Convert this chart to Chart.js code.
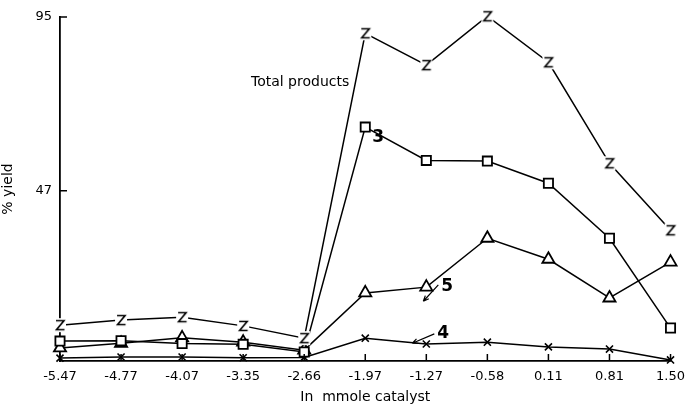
<!DOCTYPE html>
<html>
<head>
<meta charset="utf-8">
<script src="https://cdn.jsdelivr.net/npm/chart.js@4.4.1/dist/chart.umd.min.js"></script>
<style>
  html, body { margin: 0; padding: 0; background: #fff; }
  #wrap { width: 693px; height: 410px; }
</style>
</head>
<body>
<div id="wrap"><canvas id="chart" width="693" height="410"></canvas></div>
<script>
// ln(mmole catalyst)
const lnCatalyst = ["-5.47", "-4.77", "-4.07", "-3.35", "-2.66", "-1.97", "-1.27", "-0.58", "0.11", "0.81", "1.50"];

// % yield
const totalProducts = [9.9, 11.3, 12.1, 9.7, 6.3, 90.5, 81.7, 95.2, 82.5, 54.6, 36.1];
const compound3 = [5.5, 5.6, 4.8, 4.6, 2.5, 64.6, 55.4, 55.2, 49.1, 33.9, 9.1];
const compound5 = [3.6, 4.9, 6.4, 5.2, 3.0, 18.8, 20.4, 33.9, 28.1, 17.4, 27.3];
const compound4 = [0.8, 1.1, 1.1, 0.9, 1.0, 6.3, 4.7, 5.2, 3.9, 3.3, 0.3];

const yTicks = [0, 47, 95];

const FONT = "'DejaVu Sans', sans-serif";

// "Z" marker for total products
function zMarker() {
    const c = document.createElement("canvas");
    c.width = 14;
    c.height = 16;
    const g = c.getContext("2d");
    g.fillStyle = "#fff";
    g.fillRect(1, 1, 12, 14);
    g.strokeStyle = "#000";
    g.lineWidth = 1.6;
    g.beginPath();
    g.moveTo(3, 3.5);
    g.lineTo(11, 3.5);
    g.lineTo(3.5, 12.5);
    g.lineTo(11.5, 12.5);
    g.stroke();
    return c;
}

const inwardTicks = {
    id: "inwardTicks",
    afterDraw(chart) {
        const { ctx, scales: { x, y }, chartArea } = chart;
        ctx.save();
        ctx.strokeStyle = "#000";
        ctx.lineWidth = 1.5;
        ctx.beginPath();
        lnCatalyst.forEach((_, i) => {
            const px = x.getPixelForValue(i);
            ctx.moveTo(px, chartArea.bottom);
            ctx.lineTo(px, chartArea.bottom - 7);
        });
        yTicks.slice(1).forEach(v => {
            const py = y.getPixelForValue(v);
            ctx.moveTo(chartArea.left, py);
            ctx.lineTo(chartArea.left + 7, py);
        });
        ctx.stroke();
        ctx.restore();
    }
};

const notes = {
    id: "notes",
    afterDraw(chart) {
        const { ctx, scales: { x, y } } = chart;
        ctx.save();
        ctx.fillStyle = "#000";
        ctx.strokeStyle = "#000";
        ctx.lineWidth = 1.2;
        ctx.textBaseline = "middle";

        ctx.font = "14px " + FONT;
        ctx.textAlign = "right";
        ctx.fillText("Total products", x.getPixelForValue(5) - 16, y.getPixelForValue(77));

        ctx.font = "bold 17px " + FONT;
        ctx.textAlign = "left";
        ctx.fillText("3", x.getPixelForValue(5) + 7, y.getPixelForValue(61.8));
        ctx.fillText("5", x.getPixelForValue(6) + 15, y.getPixelForValue(20.5));
        ctx.fillText("4", x.getPixelForValue(6) + 11, y.getPixelForValue(7.7));

        // little arrows from the numbers to their curves
        const arrow = (x0, y0, x1, y1) => {
            const a = Math.atan2(y1 - y0, x1 - x0);
            ctx.beginPath();
            ctx.moveTo(x0, y0);
            ctx.lineTo(x1, y1);
            ctx.moveTo(x1, y1);
            ctx.lineTo(x1 - 6 * Math.cos(a - 0.4), y1 - 6 * Math.sin(a - 0.4));
            ctx.moveTo(x1, y1);
            ctx.lineTo(x1 - 6 * Math.cos(a + 0.4), y1 - 6 * Math.sin(a + 0.4));
            ctx.stroke();
        };
        const x6 = x.getPixelForValue(6);
        arrow(x6 + 12, y.getPixelForValue(21), x6 - 3, y.getPixelForValue(16.5));
        arrow(x6 + 8, y.getPixelForValue(7.5), x6 - 14, y.getPixelForValue(4.9));
        ctx.restore();
    }
};

const ctx = document.getElementById("chart").getContext("2d");
new Chart(ctx, {
    type: "line",
    data: {
        labels: lnCatalyst,
        datasets: [
            {
                label: "Total products",
                data: totalProducts,
                borderColor: "#000",
                borderWidth: 1.5,
                pointStyle: zMarker(),
                pointRadius: 7,
                clip: false
            },
            {
                label: "3",
                data: compound3,
                borderColor: "#000",
                borderWidth: 1.5,
                pointStyle: "rect",
                pointRadius: 6.5,
                pointBorderWidth: 1.8,
                pointBorderColor: "#000",
                pointBackgroundColor: "#fff",
                clip: false
            },
            {
                label: "5",
                data: compound5,
                borderColor: "#000",
                borderWidth: 1.5,
                pointStyle: "triangle",
                pointRadius: 7,
                pointBorderWidth: 1.8,
                pointBorderColor: "#000",
                pointBackgroundColor: "#fff",
                clip: false
            },
            {
                label: "4",
                data: compound4,
                borderColor: "#000",
                borderWidth: 1.5,
                pointStyle: "crossRot",
                pointRadius: 5,
                pointBorderWidth: 1.6,
                pointBorderColor: "#000",
                clip: false
            }
        ]
    },
    options: {
        responsive: false,
        animation: false,
        layout: { padding: { top: 17, right: 14, left: 0, bottom: 0 } },
        plugins: {
            legend: { display: false },
            tooltip: { enabled: false }
        },
        scales: {
            x: {
                offset: false,
                grid: { display: false, drawTicks: false },
                border: { color: "#000", width: 1.8 },
                ticks: { color: "#000", font: { family: FONT, size: 13 }, padding: 8, maxRotation: 0, autoSkip: false },
                title: { display: true, text: "In  mmole catalyst", color: "#000", font: { family: FONT, size: 14 }, padding: { top: 6 } },
                afterFit(scale) { scale.height = 49; }
            },
            y: {
                min: 0,
                max: 95,
                grid: { display: false, drawTicks: false },
                border: { color: "#000", width: 1.8 },
                afterBuildTicks(scale) { scale.ticks = yTicks.map(v => ({ value: v })); },
                ticks: {
                    color: "#000",
                    font: { family: FONT, size: 13 },
                    padding: 8,
                    callback: v => (v === 0 ? "" : String(v))
                },
                title: { display: true, text: "% yield", color: "#000", font: { family: FONT, size: 14 }, padding: 0 },
                afterFit(scale) { scale.width = 60; }
            }
        }
    },
    plugins: [inwardTicks, notes]
});
</script>
</body>
</html>
